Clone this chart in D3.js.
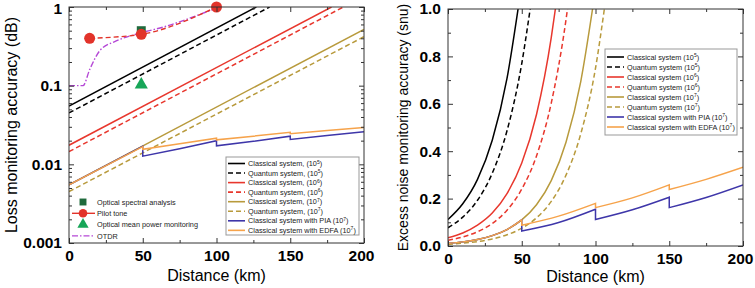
<!DOCTYPE html>
<html>
<head>
<meta charset="utf-8">
<script src="https://cdn.jsdelivr.net/npm/d3@7"></script>
<style>
body { margin: 0; background: #fff; }
svg text { font-family: Arial, "Liberation Sans", sans-serif; }
</style>
</head>
<body>
<svg id="fig" width="755" height="288"></svg>
<script>
// ---------------- data : panel a (loss, log scale) ----------------
var xTicks = [0, 50, 100, 150, 200];
var xMinor = [25, 75, 125, 175];
var lossTicks = [1, 0.1, 0.01, 0.001];

// [distance km, accuracy dB]
var lossClassical5 = [[0, 0.055], [127, 1]];
var lossQuantum5   = [[0, 0.045], [136, 1]];
var lossClassical6 = [[0, 0.0175], [178, 1]];
var lossQuantum6   = [[0, 0.0145], [186, 1]];
var lossClassical7 = [[0, 0.0055], [200, 0.52]];
var lossQuantum7   = [[0, 0.0045], [200, 0.42]];
// series with amplifier jumps : one array per span
var lossPIA  = [[[0, 0.0055], [50, 0.017]],
                [[50, 0.0127], [75, 0.0158], [100, 0.020]],
                [[100, 0.0172], [125, 0.0196], [150, 0.0228]],
                [[150, 0.0207], [175, 0.0232], [200, 0.026]]];
var lossEDFA = [[[0, 0.0055], [50, 0.0168]],
                [[50, 0.0155], [75, 0.0183], [100, 0.0215]],
                [[100, 0.0205], [125, 0.0228], [150, 0.0256]],
                [[150, 0.0245], [175, 0.027], [200, 0.0295]]];

var osaPoints   = [[49, 0.5]];
var pilotPoints = [[14, 0.4], [49, 0.45], [100, 1.0]];
var ompPoints   = [[49, 0.1]];
var otdrLine    = [[0, 0.1], [9.5, 0.1], [14, 0.16], [21, 0.28], [32, 0.37],
                   [49, 0.47], [66, 0.57], [89, 0.81], [100, 0.97]];

// ---------------- data : panel b (excess noise) ----------------
var noiseTicks = [0, 0.2, 0.4, 0.6, 0.8, 1.0];
var noiseMinor = [0.1, 0.3, 0.5, 0.7, 0.9];

var noiseClassical5 = [[0, 0.112], [10, 0.178], [20, 0.281], [30, 0.446], [40, 0.707], [47.5, 1.0]];
var noiseQuantum5   = [[0, 0.077], [10, 0.122], [20, 0.193], [30, 0.307], [40, 0.486], [50, 0.77], [55.7, 1.0]];
var noiseClassical6 = [[0, 0.035], [10, 0.055], [20, 0.088], [30, 0.139], [40, 0.221], [50, 0.35], [60, 0.555], [70, 0.879], [72.8, 1.0]];
var noiseQuantum6   = [[0, 0.024], [10, 0.038], [20, 0.06], [30, 0.095], [40, 0.151], [50, 0.24], [60, 0.38], [70, 0.603], [80, 0.955], [81, 1.0]];
var noiseClassical7 = [[0, 0.011], [10, 0.0174], [20, 0.0276], [30, 0.0438], [40, 0.0694], [50, 0.11], [60, 0.174], [70, 0.276], [80, 0.438], [90, 0.694], [98, 1.0]];
var noiseQuantum7   = [[0, 0.0075], [10, 0.0119], [20, 0.0188], [30, 0.0299], [40, 0.0473], [50, 0.075], [60, 0.119], [70, 0.188], [80, 0.299], [90, 0.473], [100, 0.75], [106, 1.0]];
var noisePIA  = [[[0, 0.011], [10, 0.0174], [20, 0.0276], [30, 0.0438], [40, 0.0694], [50, 0.11]],
                 [[50, 0.063], [75, 0.099], [100, 0.155]],
                 [[100, 0.112], [125, 0.153], [150, 0.206]],
                 [[150, 0.162], [175, 0.205], [200, 0.258]]];
var noiseEDFA = [[[0, 0.011], [10, 0.0174], [20, 0.0276], [30, 0.0438], [40, 0.0694], [50, 0.11]],
                 [[50, 0.088], [75, 0.126], [100, 0.18]],
                 [[100, 0.162], [125, 0.203], [150, 0.258]],
                 [[150, 0.238], [175, 0.281], [200, 0.332]]];

var lossLabels  = ["Classical system, (10", "Quantum system, (10", "Classical system, (10", "Quantum system, (10",
                   "Classical system, (10", "Quantum system, (10", "Classical system with PIA (10", "Classical system with EDFA (10"];
var noiseLabels = ["Classical system (10", "Quantum system (10", "Classical system (10", "Quantum system (10",
                   "Classical system (10", "Quantum system (10", "Classical system with PIA (10", "Classical system with EDFA (10"];
var powers = ["5", "5", "6", "6", "7", "7", "7", "7"];
var markerLabels = ["Optical spectral analysis", "Pilot tone", "Optical mean power monitoring", "OTDR"];

var col = {
  black: "#000000", red: "#e8372d", olive: "#b89a3c", orange: "#f6a34b", blue: "#3e36a9",
  otdr: "#b548d6", osa: "#1f6a3c", pilot: "#e2332a", omp: "#17a658"
};
var lineColors = [col.black, col.black, col.red, col.red, col.olive, col.olive, col.blue, col.orange];
var lineDash   = [null, "5,3", null, "5,3", null, "5,3", null, null];

var svg = d3.select("#fig");

// ---- helpers ----
function segPath(line, segs) {
  // join spans into one path, vertical drop between them
  var d = "";
  segs.forEach(function(s, i) {
    var p = line(s);
    d += (i === 0) ? p : p.replace(/^M/, "L");
  });
  return d;
}

function drawFrame(g, x, y, w, h, yMajor, yMinor, yFmt) {
  var fontStyle = function(sel) {
    sel.selectAll("text").style("font-size", "15.5px").style("font-weight", "bold")
      .style("font-family", "Arial, 'Liberation Sans', sans-serif").attr("fill", "#000");
    sel.select(".domain").remove();
    sel.selectAll("line").attr("stroke", "#333");
  };
  var bx = g.append("g").attr("transform", "translate(0," + h + ")")
    .call(d3.axisBottom(x).tickValues(xTicks).tickSize(-5).tickPadding(7)).call(fontStyle);
  // keep the last label inside the picture
  bx.selectAll("text").filter(function(d) { return d === 200; }).attr("dx", -3);
  g.append("g").attr("transform", "translate(0," + h + ")")
    .call(d3.axisBottom(x).tickValues(xMinor).tickSize(-3).tickFormat("")).call(fontStyle);
  g.append("g").call(d3.axisTop(x).tickValues(xTicks).tickSize(-5).tickFormat("")).call(fontStyle);
  g.append("g").call(d3.axisTop(x).tickValues(xMinor).tickSize(-3).tickFormat("")).call(fontStyle);

  g.append("g").call(d3.axisLeft(y).tickValues(yMajor).tickSize(-5).tickPadding(7).tickFormat(yFmt)).call(fontStyle);
  g.append("g").call(d3.axisLeft(y).tickValues(yMinor).tickSize(-3).tickFormat("")).call(fontStyle);
  g.append("g").attr("transform", "translate(" + w + ",0)")
    .call(d3.axisRight(y).tickValues(yMajor).tickSize(-5).tickFormat("")).call(fontStyle);
  g.append("g").attr("transform", "translate(" + w + ",0)")
    .call(d3.axisRight(y).tickValues(yMinor).tickSize(-3).tickFormat("")).call(fontStyle);

  g.append("rect").attr("width", w).attr("height", h)
    .attr("fill", "none").attr("stroke", "#333").attr("stroke-width", 1);
}

function drawLegend(g, lx, ly, lw, lh, rowY, rowH, labels) {
  g.append("rect").attr("x", lx).attr("y", ly).attr("width", lw).attr("height", lh)
    .attr("fill", "#fff").attr("stroke", "#999").attr("stroke-width", 1);
  labels.forEach(function(lab, i) {
    var yy = rowY + i * rowH;
    g.append("line").attr("x1", lx + 2).attr("x2", lx + 19).attr("y1", yy).attr("y2", yy)
      .attr("stroke", lineColors[i]).attr("stroke-width", 1.6)
      .attr("stroke-dasharray", lineDash[i]);
    var t = g.append("text").attr("x", lx + 22).attr("y", yy + 2.6)
      .style("font-size", "7.3px").attr("fill", "#222");
    t.append("tspan").text(lab);
    t.append("tspan").attr("dy", -2.6).style("font-size", "5px").text(powers[i]);
    t.append("tspan").attr("dy", 2.6).text(")");
  });
}

// ================= panel a =================
var A = { left: 69, top: 7, w: 295, h: 236 };
var gA = svg.append("g").attr("transform", "translate(" + A.left + "," + A.top + ")");
var xA = d3.scaleLinear().domain([0, 200]).range([0, A.w]);
var yA = d3.scaleLog().domain([0.001, 1]).range([A.h, 0]);

var logMinor = [];
[0.001, 0.01, 0.1].forEach(function(dec) {
  for (var k = 2; k <= 9; k++) logMinor.push(dec * k);
});

gA.append("defs").append("clipPath").attr("id", "clipA")
  .append("rect").attr("width", A.w).attr("height", A.h);
var plotA = gA.append("g").attr("clip-path", "url(#clipA)");

var lineA = d3.line().x(function(d) { return xA(d[0]); }).y(function(d) { return yA(d[1]); });
var lossSimple = [lossClassical5, lossQuantum5, lossClassical6, lossQuantum6, lossClassical7, lossQuantum7];
lossSimple.forEach(function(s, i) {
  plotA.append("path").attr("d", lineA(s)).attr("fill", "none")
    .attr("stroke", lineColors[i]).attr("stroke-width", 1.5).attr("stroke-dasharray", lineDash[i]);
});
plotA.append("path").attr("d", segPath(lineA, lossPIA)).attr("fill", "none")
  .attr("stroke", col.blue).attr("stroke-width", 1.5);
plotA.append("path").attr("d", segPath(lineA, lossEDFA)).attr("fill", "none")
  .attr("stroke", col.orange).attr("stroke-width", 1.5);

// monitoring techniques
var curveA = d3.line().curve(d3.curveMonotoneX)
  .x(function(d) { return xA(d[0]); }).y(function(d) { return yA(d[1]); });
plotA.append("path").attr("d", curveA(otdrLine)).attr("fill", "none")
  .attr("stroke", col.otdr).attr("stroke-width", 1.4).attr("stroke-dasharray", "6,2,1.5,2");
plotA.append("path").attr("d", curveA(pilotPoints)).attr("fill", "none")
  .attr("stroke", col.pilot).attr("stroke-width", 1.4).attr("stroke-dasharray", "5,3");

var sym = function(type, size) { return d3.symbol().type(type).size(size)(); };
gA.selectAll(".osa").data(osaPoints).enter().append("path")
  .attr("d", sym(d3.symbolSquare, 80))
  .attr("transform", function(d) { return "translate(" + xA(d[0]) + "," + yA(d[1]) + ")"; })
  .attr("fill", col.osa);
gA.selectAll(".pilot").data(pilotPoints).enter().append("circle")
  .attr("cx", function(d) { return xA(d[0]); }).attr("cy", function(d) { return yA(d[1]); })
  .attr("r", 5.5).attr("fill", col.pilot);
gA.selectAll(".omp").data(ompPoints).enter().append("path")
  .attr("d", sym(d3.symbolTriangle, 75))
  .attr("transform", function(d) { return "translate(" + xA(d[0]) + "," + (yA(d[1]) - 1) + ")"; })
  .attr("fill", col.omp);

drawFrame(gA, xA, yA, A.w, A.h, lossTicks, logMinor, function(d) { return String(d); });
// top label sits a touch lower so it stays inside the picture
gA.selectAll("text").filter(function(d) { return d === 1; }).attr("dy", "0.45em");

drawLegend(gA, 157, 150, 133, 78, 156.5, 9.55, lossLabels);

// technique legend (no box)
var mk = gA.append("g");
markerLabels.forEach(function(lab, i) {
  var yy = 195 + i * 11.3, cx = 14;
  if (i === 1) {
    mk.append("line").attr("x1", 3).attr("x2", 26).attr("y1", yy).attr("y2", yy)
      .attr("stroke", col.pilot).attr("stroke-width", 1.4);
    mk.append("circle").attr("cx", cx).attr("cy", yy).attr("r", 4.3).attr("fill", col.pilot);
  } else if (i === 3) {
    mk.append("line").attr("x1", 3).attr("x2", 26).attr("y1", yy).attr("y2", yy)
      .attr("stroke", col.otdr).attr("stroke-width", 1.4).attr("stroke-dasharray", "6,2,1.5,2");
  } else {
    mk.append("path").attr("d", sym(i === 0 ? d3.symbolSquare : d3.symbolTriangle, i === 0 ? 48 : 55))
      .attr("transform", "translate(" + cx + "," + yy + ")")
      .attr("fill", i === 0 ? col.osa : col.omp);
  }
  mk.append("text").attr("x", 28).attr("y", yy + 2.6).style("font-size", "7.3px")
    .attr("fill", "#222").text(lab);
});

svg.append("text").attr("transform", "translate(17," + (A.top + A.h / 2) + ") rotate(-90)")
  .attr("text-anchor", "middle").style("font-size", "16px").text("Loss monitoring accuracy (dB)");
svg.append("text").attr("x", A.left + A.w / 2).attr("y", 281)
  .attr("text-anchor", "middle").style("font-size", "16px").text("Distance (km)");

// ================= panel b =================
var B = { left: 448, top: 9, w: 295, h: 237 };
var gB = svg.append("g").attr("transform", "translate(" + B.left + "," + B.top + ")");
var xB = d3.scaleLinear().domain([0, 200]).range([0, B.w]);
var yB = d3.scaleLinear().domain([0, 1]).range([B.h, 0]);

gB.append("defs").append("clipPath").attr("id", "clipB")
  .append("rect").attr("width", B.w).attr("height", B.h);
var plotB = gB.append("g").attr("clip-path", "url(#clipB)");

var lineB = d3.line().curve(d3.curveMonotoneX)
  .x(function(d) { return xB(d[0]); }).y(function(d) { return yB(d[1]); });
var noiseSimple = [noiseClassical5, noiseQuantum5, noiseClassical6, noiseQuantum6, noiseClassical7, noiseQuantum7];
noiseSimple.forEach(function(s, i) {
  plotB.append("path").attr("d", lineB(s)).attr("fill", "none")
    .attr("stroke", lineColors[i]).attr("stroke-width", 1.5).attr("stroke-dasharray", lineDash[i]);
});
plotB.append("path").attr("d", segPath(lineB, noisePIA)).attr("fill", "none")
  .attr("stroke", col.blue).attr("stroke-width", 1.5);
plotB.append("path").attr("d", segPath(lineB, noiseEDFA)).attr("fill", "none")
  .attr("stroke", col.orange).attr("stroke-width", 1.5);

drawFrame(gB, xB, yB, B.w, B.h, noiseTicks, noiseMinor, d3.format(".1f"));

drawLegend(gB, 157, 40, 132, 86, 48, 10, noiseLabels);

svg.append("text").attr("transform", "translate(408," + (B.top + B.h / 2) + ") rotate(-90)")
  .attr("text-anchor", "middle").style("font-size", "14px").text("Excess noise monitoring accuracy (snu)");
svg.append("text").attr("x", B.left + B.w / 2).attr("y", 282)
  .attr("text-anchor", "middle").style("font-size", "16px").text("Distance (km)");
</script>
</body>
</html>
